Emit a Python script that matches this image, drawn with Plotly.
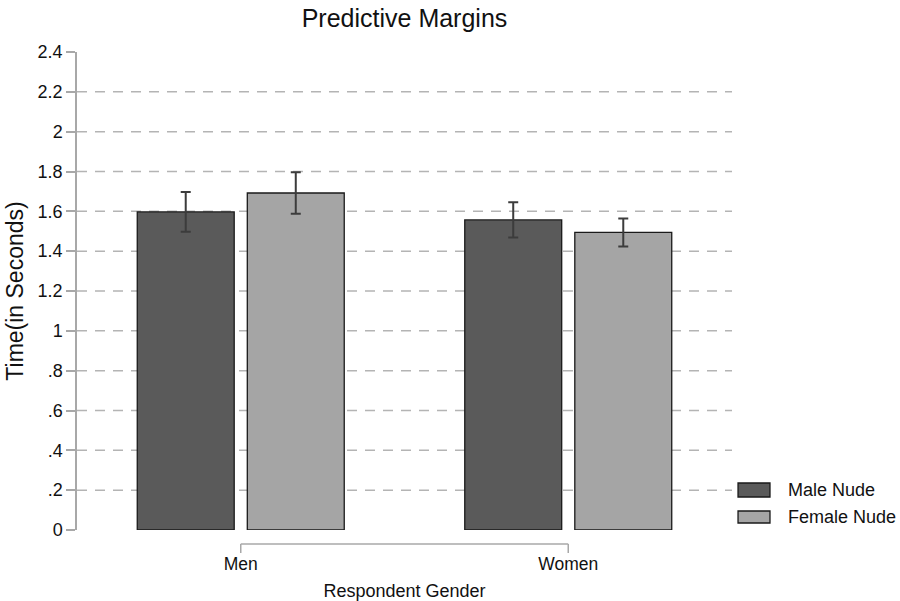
import plotly.graph_objects as go

# Predictive margins of response time by respondent gender and stimulus
groups = ["Men", "Women"]
group_pos = [1, 2]
series_names = ["Male Nude", "Female Nude"]
male_nude = [1.597, 1.557]
male_nude_err = [0.100, 0.088]
female_nude = [1.692, 1.494]
female_nude_err = [0.104, 0.070]
y_ticks = [0, 0.2, 0.4, 0.6, 0.8, 1.0, 1.2, 1.4, 1.6, 1.8, 2.0, 2.2, 2.4]
y_tick_text = ["0", ".2", ".4", ".6", ".8", "1", "1.2", "1.4", "1.6", "1.8", "2", "2.2", "2.4"]

colors = ["#5a5a5a", "#a5a5a5"]
FONT = "Liberation Sans, Arial, sans-serif"
BAR_W = 0.296

fig = go.Figure()
for name, vals, errs, col, off in [
    (series_names[0], male_nude, male_nude_err, colors[0], -0.316),
    (series_names[1], female_nude, female_nude_err, colors[1], 0.020),
]:
    fig.add_trace(go.Bar(
        x=group_pos, y=vals, name=name, width=BAR_W, offset=off,
        marker=dict(color=col, line=dict(color="#1a1a1a", width=1.3)),
        error_y=dict(type="data", array=errs, visible=True,
                     color="#3c3c3c", thickness=2, width=5),
        showlegend=False,
    ))

# dashed horizontal grid (interior ticks only)
for v in y_ticks[1:-1]:
    fig.add_shape(type="line", xref="paper", yref="y", x0=0, x1=1, y0=v, y1=v,
                  line=dict(color="#b4b4b4", width=1.5, dash="10px,8px"), layer="below")

# x-axis bracket spanning the two categories
axc = "#a8a8a8"
yb0, yb1 = -0.0293, -0.0481
fig.add_shape(type="line", xref="x", yref="paper", x0=group_pos[0], x1=group_pos[-1],
              y0=yb0, y1=yb0, line=dict(color=axc, width=1.5))
for gp in group_pos:
    fig.add_shape(type="line", xref="x", yref="paper", x0=gp, x1=gp,
                  y0=yb0, y1=yb1, line=dict(color=axc, width=1.5))

# legend keys
leg_y = [(0.0983, 0.069), (0.0397, 0.0146)]
for name, col, (ya, yb) in zip(series_names, colors, leg_y):
    fig.add_shape(type="rect", xref="paper", yref="paper", x0=1.0092, x1=1.058,
                  y0=yb, y1=ya, fillcolor=col, line=dict(color="#1a1a1a", width=1.3))
    fig.add_annotation(xref="paper", yref="paper", x=1.083, y=(ya + yb) / 2,
                       text=name, showarrow=False, xanchor="left", yanchor="middle",
                       font=dict(family=FONT, size=18, color="#111111"))

fig.update_layout(
    width=900, height=601,
    margin=dict(l=77, r=168, t=52, b=71),
    paper_bgcolor="white", plot_bgcolor="white",
    barmode="overlay",
    font=dict(family=FONT, size=18, color="#111111"),
    title=dict(text="Predictive Margins", x=404.5 / 900, xanchor="center",
               y=1 - 18 / 601, yanchor="middle", font=dict(size=25)),
    xaxis=dict(range=[0.5, 2.5], tickvals=group_pos, ticktext=groups,
               ticks="outside", ticklen=18, tickcolor="rgba(0,0,0,0)",
               tickfont=dict(size=17.5),
               showgrid=False, zeroline=False, showline=False, automargin=False,
               title=dict(text="Respondent Gender", standoff=12, font=dict(size=18))),
    yaxis=dict(range=[0, 2.4], tickvals=y_ticks, ticktext=y_tick_text,
               ticks="outside", ticklen=9, tickcolor=axc, tickwidth=1.5,
               showline=True, linecolor=axc, linewidth=1.5,
               showgrid=False, zeroline=False, automargin=False,
               title=dict(text="Time(in Seconds)", standoff=8, font=dict(size=23))),
)

fig.write_html("out.html")
